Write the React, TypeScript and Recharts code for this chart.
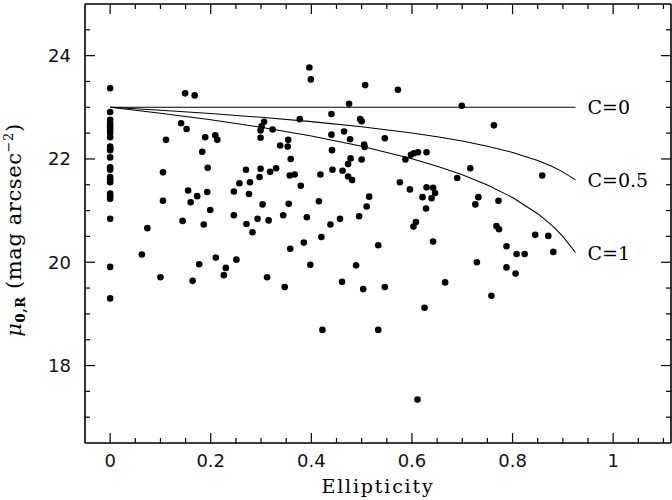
import React from 'react';
import { ScatterChart, Scatter, XAxis, YAxis, ReferenceDot } from 'recharts';

// Galaxies at zero ellipticity (mu_0,R, mag arcsec^-2)
const roundMu = [23.37, 22.91, 22.76, 22.68, 22.63, 22.57, 22.5, 22.42, 22.24, 22.2, 22.17, 22.03, 21.84, 21.79, 21.65, 21.6, 21.55, 21.33, 21.28, 21.23, 20.84, 19.91, 19.3];

// Other galaxies: ellipticity and central surface brightness
const ellipticity = [
  0.149, 0.168, 0.141, 0.152, 0.111, 0.189, 0.209, 0.213, 0.183, 0.194, 0.105, 0.105, 0.155, 0.173, 0.16, 0.193, 0.199, 0.144, 0.074, 0.186,
  0.246, 0.257, 0.27, 0.278, 0.276, 0.246, 0.271, 0.283, 0.293, 0.315, 0.303, 0.297, 0.299, 0.318, 0.33, 0.299, 0.299, 0.301, 0.306, 0.323,
  0.338, 0.353, 0.354, 0.359, 0.357, 0.367, 0.379, 0.355, 0.344, 0.391, 0.415, 0.418, 0.396, 0.399, 0.377, 0.44, 0.44, 0.441, 0.442, 0.438,
  0.42, 0.385, 0.358,
  0.507, 0.572, 0.475, 0.699, 0.497, 0.5, 0.465, 0.477, 0.546, 0.763, 0.505, 0.506, 0.478, 0.5, 0.473, 0.462, 0.473, 0.481, 0.587, 0.598,
  0.604, 0.612, 0.629, 0.716, 0.69, 0.859, 0.576, 0.596, 0.629, 0.642, 0.646, 0.621, 0.639, 0.628, 0.515, 0.51, 0.495, 0.457, 0.732, 0.726,
  0.772, 0.608, 0.603, 0.768, 0.773, 0.845, 0.871, 0.533, 0.642, 0.788,
  0.489, 0.461, 0.503, 0.546, 0.533, 0.611, 0.625, 0.666, 0.729, 0.758, 0.788, 0.806, 0.808, 0.824, 0.881,
  0.063, 0.1, 0.164, 0.177, 0.21, 0.226, 0.23, 0.251, 0.312, 0.347, 0.398, 0.422,
];
const surfaceBrightness = [
  23.27, 23.23, 22.69, 22.58, 22.37, 22.42, 22.46, 22.37, 22.14, 21.83, 21.74, 21.19, 21.39, 21.28, 21.16, 21.36, 21.01, 20.8, 20.66, 20.73,
  21.37, 21.53, 21.79, 21.55, 21.32, 20.91, 20.74, 20.58, 20.84, 20.81, 21.12, 21.65, 21.81, 21.75, 21.82, 22.41, 22.55, 22.63, 22.72, 22.57,
  22.26, 22.24, 22.37, 22.0, 21.68, 21.7, 21.48, 21.13, 20.91, 20.87, 21.18, 21.7, 23.77, 23.54, 22.77, 22.87, 22.47, 22.17, 21.79, 20.73,
  20.49, 20.38, 20.26,
  23.43, 23.34, 23.07, 23.03, 22.77, 22.73, 22.53, 22.38, 22.4, 22.65, 22.28, 22.23, 22.01, 21.99, 21.9, 21.77, 21.66, 21.59, 21.99, 22.08,
  22.11, 22.13, 22.13, 21.82, 21.63, 21.68, 21.55, 21.41, 21.45, 21.44, 21.34, 21.26, 21.24, 21.04, 21.27, 21.08, 20.89, 20.84, 21.26, 21.12,
  21.19, 20.78, 20.69, 20.7, 20.64, 20.53, 20.51, 20.33, 20.4, 20.31,
  19.94, 19.62, 19.48, 19.52, 18.69, 17.34, 19.12, 19.61, 20.0, 19.35, 19.9, 19.78, 20.16, 20.16, 20.2,
  20.15, 19.71, 19.64, 19.96, 20.09, 19.75, 19.89, 20.05, 19.71, 19.52, 19.95, 18.69,
];

// Model curves
const curveEllipticity = [0, 0.1, 0.2, 0.3, 0.4, 0.5, 0.6, 0.65, 0.7, 0.75, 0.8, 0.85, 0.88, 0.9, 0.925];
const curveC0 = [23, 23, 23, 23, 23, 23, 23, 23, 23, 23, 23, 23, 23, 23, 23];
const curveC05 = [23, 22.943, 22.879, 22.806, 22.723, 22.624, 22.503, 22.43, 22.346, 22.247, 22.126, 21.97, 21.849, 21.75, 21.594];
const curveC1 = [23, 22.886, 22.758, 22.613, 22.445, 22.247, 22.005, 21.86, 21.693, 21.495, 21.253, 20.94, 20.698, 20.5, 20.188];
const curveLabels = ['C=0', 'C=0.5', 'C=1'];

// Axes
const xMajorTicks = [0, 0.2, 0.4, 0.6, 0.8, 1];
const xTickLabels = ['0', '0.2', '0.4', '0.6', '0.8', '1'];
const xMinorTicks = [0.05, 0.1, 0.15, 0.25, 0.3, 0.35, 0.45, 0.5, 0.55, 0.65, 0.7, 0.75, 0.85, 0.9, 0.95, 1.05, 1.1];
const yMajorTicks = [18, 20, 22, 24];
const yTickLabels = ['18', '20', '22', '24'];
const yMinorTicks = [17, 17.5, 18.5, 19, 19.5, 20.5, 21, 21.5, 22.5, 23, 23.5, 24.5];
const xDomain = [-0.05, 1.115];
const yDomain = [16.5, 25];

const points = [
  ...roundMu.map((mu) => ({ e: 0, mu })),
  ...ellipticity.map((e, i) => ({ e, mu: surfaceBrightness[i] })),
];
const toCurve = (vals: number[]) => curveEllipticity.map((e, i) => ({ e, mu: vals[i] }));
const curves = [toCurve(curveC0), toCurve(curveC05), toCurve(curveC1)];

const xTicks = [...xMajorTicks, ...xMinorTicks].sort((a, b) => a - b);
const yTicks = [...yMajorTicks, ...yMinorTicks].sort((a, b) => a - b);

const TICK_FONT = '"DejaVu Sans", sans-serif';
const SERIF = '"DejaVu Serif", serif';
const MAJOR = 10;
const MINOR = 5;

const makeXTick = (dir: number, withLabel: boolean) => (props: any) => {
  const { x, y, payload } = props;
  const idx = xMajorTicks.indexOf(payload.value);
  const len = idx >= 0 ? MAJOR : MINOR;
  return (
    <g>
      <line x1={x} y1={y} x2={x} y2={y + dir * len} stroke="#000" strokeWidth={1.2} />
      {withLabel && idx >= 0 && (
        <text x={x} y={y + 24} textAnchor="middle" fontFamily={TICK_FONT} fontSize={18} fill="#111">
          {xTickLabels[idx]}
        </text>
      )}
    </g>
  );
};

const makeYTick = (dir: number, withLabel: boolean) => (props: any) => {
  const { x, y, payload } = props;
  const idx = yMajorTicks.indexOf(payload.value);
  const len = idx >= 0 ? MAJOR : MINOR;
  return (
    <g>
      <line x1={x} y1={y} x2={x + dir * len} y2={y} stroke="#000" strokeWidth={1.2} />
      {withLabel && idx >= 0 && (
        <text x={x - 14} y={y + 6.5} textAnchor="end" fontFamily={TICK_FONT} fontSize={18} fill="#111">
          {yTickLabels[idx]}
        </text>
      )}
    </g>
  );
};

const renderXTitle = (props: any) => {
  const vb = props.viewBox;
  return (
    <text x={vb.x + vb.width / 2} y={493} textAnchor="middle" fontFamily={SERIF} fontSize={19} letterSpacing={1.8} fill="#000">
      Ellipticity
    </text>
  );
};

const renderYTitle = () => (
  <text transform="rotate(-90, 21, 230)" x={21} y={230} textAnchor="middle" fontFamily={SERIF} fontSize={21} letterSpacing={0.6} fill="#000">
    <tspan fontStyle="italic">μ</tspan>
    <tspan fontSize={13} fontWeight="bold" dy={4}>0,R</tspan>
    <tspan dy={-4}> (mag arcsec</tspan>
    <tspan fontSize={13} dy={-8}>−2</tspan>
    <tspan dy={8}>)</tspan>
  </text>
);

const makeCurveLabel = (text: string) => (props: any) => {
  const vb = props.viewBox;
  return (
    <text x={vb.x + 12} y={vb.y + 7} fontFamily={SERIF} fontSize={19} fill="#000">
      {text}
    </text>
  );
};

const dot = (props: any) => <circle cx={props.cx} cy={props.cy} r={3.3} fill="#000" />;
const noShape = () => <g />;

export default function App() {
  return (
    <div style={{ position: 'absolute', left: 0, top: 0, background: '#fff' }}>
      <ScatterChart width={672} height={500} margin={{ top: 3, right: 0, bottom: 0, left: 0 }}>
        <XAxis
          xAxisId="x"
          dataKey="e"
          type="number"
          domain={xDomain}
          allowDataOverflow
          ticks={xTicks}
          interval={0}
          tickSize={0}
          tickMargin={0}
          tickLine={false}
          tick={makeXTick(-1, true)}
          axisLine={{ stroke: '#000', strokeWidth: 1.6 }}
          height={57}
          label={{ content: renderXTitle }}
        />
        <XAxis
          xAxisId="top"
          orientation="top"
          dataKey="e"
          type="number"
          domain={xDomain}
          allowDataOverflow
          ticks={xTicks}
          interval={0}
          tickSize={0}
          tickMargin={0}
          tickLine={false}
          tick={makeXTick(1, false)}
          axisLine={{ stroke: '#000', strokeWidth: 1.6 }}
          height={1}
        />
        <YAxis
          yAxisId="y"
          dataKey="mu"
          type="number"
          domain={yDomain}
          allowDataOverflow
          ticks={yTicks}
          interval={0}
          tickSize={0}
          tickMargin={0}
          tickLine={false}
          tick={makeYTick(1, true)}
          axisLine={{ stroke: '#000', strokeWidth: 1.6 }}
          width={85}
          label={{ content: renderYTitle }}
        />
        <YAxis
          yAxisId="right"
          orientation="right"
          dataKey="mu"
          type="number"
          domain={yDomain}
          allowDataOverflow
          ticks={yTicks}
          interval={0}
          tickSize={0}
          tickMargin={0}
          tickLine={false}
          tick={makeYTick(-1, false)}
          axisLine={{ stroke: '#000', strokeWidth: 1.6 }}
          width={1}
        />
        <Scatter data={curves[0]} xAxisId="top" yAxisId="right" shape={noShape} isAnimationActive={false} />
        {curves.map((c, i) => (
          <Scatter
            key={'curve' + i}
            data={c}
            xAxisId="x"
            yAxisId="y"
            line={{ stroke: '#000', strokeWidth: 1.1 }}
            lineType="joint"
            shape={noShape}
            isAnimationActive={false}
          />
        ))}
        <Scatter data={points} xAxisId="x" yAxisId="y" shape={dot} isAnimationActive={false} />
        {curves.map((c, i) => (
          <ReferenceDot
            key={'lab' + i}
            xAxisId="x"
            yAxisId="y"
            x={c[c.length - 1].e}
            y={c[c.length - 1].mu}
            r={0}
            stroke="none"
            fill="none"
            label={{ content: makeCurveLabel(curveLabels[i]) }}
          />
        ))}
      </ScatterChart>
    </div>
  );
}
